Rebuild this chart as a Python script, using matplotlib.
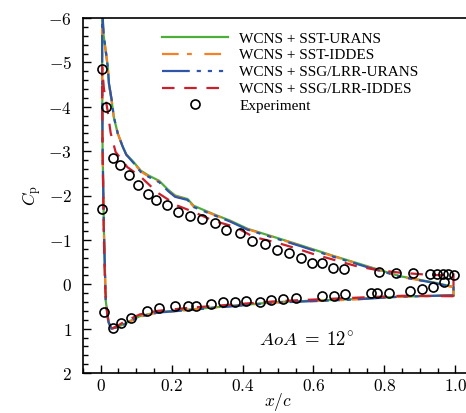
import matplotlib
matplotlib.use("Agg")
import matplotlib.pyplot as plt
from matplotlib.ticker import MultipleLocator, FuncFormatter

plt.rcParams['mathtext.fontset'] = 'cm'
plt.rcParams['lines.scale_dashes'] = False

# --- simulation Cp, closed loop: lower surface TE->LE, then upper surface LE->TE
# WCNS + SSG/LRR-URANS
x_ssg_urans = [0.995, 0.845, 0.70, 0.50, 0.35, 0.25, 0.16, 0.11, 0.065, 0.045, 0.03,
               0.022, 0.014, 0.009, 0.005, 0.004, 0.004, 0.006, 0.008, 0.014, 0.02,
               0.023, 0.031, 0.037, 0.048, 0.062, 0.072, 0.093, 0.113, 0.135, 0.165,
               0.19, 0.21, 0.245, 0.262, 0.318, 0.366, 0.414, 0.507, 0.563, 0.656,
               0.75, 0.845, 0.94, 0.99, 0.995, 0.995]
cp_ssg_urans = [0.25, 0.28, 0.35, 0.41, 0.51, 0.58, 0.64, 0.73, 0.91, 0.97, 1.0,
                0.85, 0.35, -1.2, -3.2, -5.0, -6.4, -5.95, -5.66, -5.28, -4.9,
                -4.54, -4.15, -3.77, -3.4, -3.1, -2.92, -2.73, -2.53, -2.42, -2.3,
                -2.1, -1.97, -1.9, -1.74, -1.56, -1.41, -1.23, -1.0, -0.86, -0.62,
                -0.39, -0.17, -0.03, 0.06, 0.06, 0.25]

# WCNS + SST-URANS
x_sst_urans = [0.995, 0.845, 0.70, 0.50, 0.35, 0.25, 0.16, 0.11, 0.065, 0.045, 0.03,
               0.022, 0.014, 0.009, 0.005, 0.004, 0.004, 0.006, 0.008, 0.014, 0.02,
               0.023, 0.031, 0.037, 0.048, 0.062, 0.072, 0.093, 0.113, 0.135, 0.165,
               0.19, 0.21, 0.245, 0.262, 0.318, 0.366, 0.414, 0.507, 0.563, 0.656,
               0.75, 0.845, 0.94, 0.99, 0.995, 0.995]
cp_sst_urans = [0.25, 0.28, 0.34, 0.40, 0.50, 0.57, 0.63, 0.72, 0.90, 0.97, 1.0,
                0.86, 0.36, -1.2, -3.2, -5.0, -6.4, -5.9, -5.62, -5.25, -4.88,
                -4.52, -4.12, -3.76, -3.4, -3.1, -2.93, -2.75, -2.56, -2.45, -2.33,
                -2.13, -2.0, -1.92, -1.77, -1.58, -1.43, -1.25, -1.02, -0.88, -0.64,
                -0.41, -0.18, -0.04, 0.05, 0.05, 0.25]

# WCNS + SST-IDDES
x_sst_iddes = x_sst_urans
cp_sst_iddes = [0.25, 0.28, 0.35, 0.41, 0.50, 0.58, 0.64, 0.73, 0.91, 0.97, 1.0,
                0.85, 0.35, -1.2, -3.2, -5.0, -6.4, -5.92, -5.64, -5.27, -4.9,
                -4.53, -4.14, -3.76, -3.4, -3.1, -2.92, -2.74, -2.54, -2.43, -2.31,
                -2.11, -1.98, -1.91, -1.75, -1.57, -1.42, -1.24, -1.01, -0.87, -0.63,
                -0.40, -0.17, -0.03, 0.06, 0.06, 0.25]

# WCNS + SSG/LRR-IDDES
x_ssg_iddes = [0.995, 0.85, 0.70, 0.50, 0.35, 0.25, 0.16, 0.11, 0.065, 0.045, 0.03,
               0.022, 0.016, 0.012, 0.009, 0.007, 0.005, 0.004, 0.004, 0.009, 0.019,
               0.028, 0.042, 0.06, 0.075, 0.113, 0.161, 0.217, 0.262, 0.318, 0.38,
               0.43, 0.50, 0.555, 0.60, 0.72, 0.78, 0.845, 0.93, 0.99, 0.995, 0.995]
cp_ssg_iddes = [0.27, 0.26, 0.31, 0.38, 0.47, 0.53, 0.60, 0.68, 0.85, 0.95, 1.0,
                0.9, 0.5, 0.0, -1.0, -2.0, -3.2, -4.2, -4.9, -4.4, -3.93,
                -3.41, -2.98, -2.8, -2.64, -2.42, -2.06, -1.77, -1.63, -1.43, -1.29,
                -1.07, -0.93, -0.80, -0.68, -0.41, -0.32, -0.26, -0.21, -0.2, -0.25, 0.27]

# --- experiment
x_exp = [0.003, 0.003, 0.014, 0.034, 0.054, 0.079, 0.104, 0.132, 0.155, 0.186,
         0.217, 0.251, 0.285, 0.321, 0.352, 0.392, 0.428, 0.462, 0.496, 0.530,
         0.566, 0.597, 0.625, 0.656, 0.685, 0.786, 0.834, 0.882, 0.930, 0.949,
         0.966, 0.980, 0.997,
         0.010, 0.034, 0.056, 0.085, 0.130, 0.165, 0.210, 0.245, 0.270, 0.310,
         0.345, 0.380, 0.410, 0.450, 0.480, 0.515, 0.552, 0.623, 0.659, 0.690,
         0.761, 0.780, 0.814, 0.873, 0.907, 0.938, 0.969]
cp_exp = [-1.70, -4.85, -4.00, -2.85, -2.69, -2.46, -2.24, -2.04, -1.90, -1.79,
          -1.63, -1.54, -1.47, -1.38, -1.23, -1.16, -0.98, -0.91, -0.77, -0.71,
          -0.59, -0.48, -0.48, -0.37, -0.35, -0.28, -0.26, -0.26, -0.23, -0.23,
          -0.23, -0.23, -0.21,
          0.62, 0.98, 0.87, 0.76, 0.60, 0.53, 0.49, 0.49, 0.49, 0.44,
          0.40, 0.40, 0.37, 0.40, 0.35, 0.33, 0.31, 0.26, 0.26, 0.22,
          0.19, 0.19, 0.19, 0.15, 0.10, 0.06, -0.05]

fig = plt.figure(figsize=(4.66, 4.13), dpi=100)
ax = fig.add_axes([83/466, 40/413, 390/466, 355/413])

lw = 1.6
ax.plot(x_sst_urans, cp_sst_urans, color='#4daf3a', lw=lw, label='WCNS + SST-URANS')
ax.plot(x_sst_iddes, cp_sst_iddes, color='#f58025', lw=lw, dashes=(12, 6, 3.5, 9),
        label='WCNS + SST-IDDES')
ax.plot(x_ssg_urans, cp_ssg_urans, color='#2f55a8', lw=lw,
        dashes=(20, 5, 3, 5, 3, 5, 3, 5), label='WCNS + SSG/LRR-URANS')
ax.plot(x_ssg_iddes, cp_ssg_iddes, color='#c8202c', lw=lw, dashes=(9, 7),
        label='WCNS + SSG/LRR-IDDES')
ax.plot(x_exp, cp_exp, 'o', mfc='none', mec='black', mew=1.2, ms=6.5,
        label='Experiment')

ax.set_xlim(-0.05, 1.05)
ax.set_ylim(2, -6)

ax.xaxis.set_major_locator(MultipleLocator(0.2))
ax.xaxis.set_minor_locator(MultipleLocator(0.05))
ax.yaxis.set_major_locator(MultipleLocator(1))
ax.yaxis.set_minor_locator(MultipleLocator(0.2))

def xfmt(v, pos):
    if abs(v) < 1e-9:
        return r'$0$'
    return r'$%.1f$' % v

def yfmt(v, pos):
    return r'$%d$' % int(round(v))

ax.xaxis.set_major_formatter(FuncFormatter(xfmt))
ax.yaxis.set_major_formatter(FuncFormatter(yfmt))

ax.tick_params(which='both', direction='in', top=False, right=False, width=1)
ax.tick_params(which='major', length=6)
ax.tick_params(which='minor', length=3.5)
ax.tick_params(axis='y', which='major', labelsize=12.5, pad=8)
ax.tick_params(axis='x', which='major', labelsize=12.5, pad=3)
for s in ax.spines.values():
    s.set_linewidth(1.2)

ax.set_xlabel(r'$x/c$', fontsize=12.5, labelpad=-3)
ax.set_ylabel(r'$C_\mathrm{p}$', fontsize=12.5, labelpad=3)

ax.text(0.58, 1.25, r'$AoA\;=\;12^{\circ}$', fontsize=13.5, ha='center', va='center')

leg = ax.legend(loc='upper left', bbox_to_anchor=(162/466, 1 - 32/413),
                bbox_transform=fig.transFigure, frameon=False, borderpad=0,
                borderaxespad=0, handlelength=4.3, handletextpad=0.75,
                labelspacing=0.2, prop={'family': 'Liberation Serif', 'size': 11})

fig.savefig('out.png', dpi=100)
